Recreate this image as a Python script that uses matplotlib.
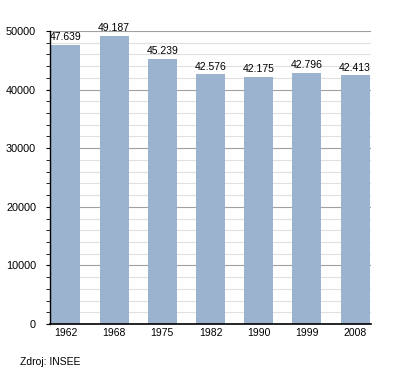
import matplotlib
matplotlib.use("Agg")
import matplotlib.pyplot as plt
from matplotlib.ticker import MultipleLocator

plt.rcParams['font.family'] = ['Liberation Sans', 'DejaVu Sans']

years = ["1962", "1968", "1975", "1982", "1990", "1999", "2008"]
population = [47639, 49187, 45239, 42576, 42175, 42796, 42413]
labels = ["47.639", "49.187", "45.239", "42.576", "42.175", "42.796", "42.413"]

fig = plt.figure(figsize=(4.0, 3.73), dpi=100)
ax = fig.add_axes([0.125, 0.1314, 0.8025, 0.7855])

# grid: light minor lines every 2000, darker at 10000
ax.set_ylim(0, 50000)
ax.yaxis.set_major_locator(MultipleLocator(10000))
ax.yaxis.set_minor_locator(MultipleLocator(2000))
ax.grid(axis="y", which="minor", color="#e0e0e0", linewidth=0.8)
ax.grid(axis="y", which="major", color="#a0a0a0", linewidth=0.8)
ax.set_axisbelow(True)

x = range(len(years))
ax.bar(x, population, width=0.6, color="#9cb3cf", zorder=2)
for i, v in enumerate(population):
    ax.text(i, v + 500, labels[i], ha="center", va="bottom", fontsize=7.5,
            clip_on=False)

ax.set_xlim(-0.33, len(years) - 1 + 0.33)
ax.set_xticks(list(x))
ax.set_xticklabels(years)
ax.tick_params(axis="x", length=0, labelsize=7.5, pad=3)
ax.tick_params(axis="y", which="major", length=3, labelsize=7.8, pad=7)
ax.tick_params(axis="y", which="minor", length=3)

for s in ["top", "right"]:
    ax.spines[s].set_visible(False)
ax.spines["left"].set_linewidth(1)
ax.spines["bottom"].set_linewidth(1.2)

fig.text(0.05, 0.03, "Zdroj: INSEE", fontsize=7.5, ha="left", va="center")

fig.savefig("out.png", dpi=100)
